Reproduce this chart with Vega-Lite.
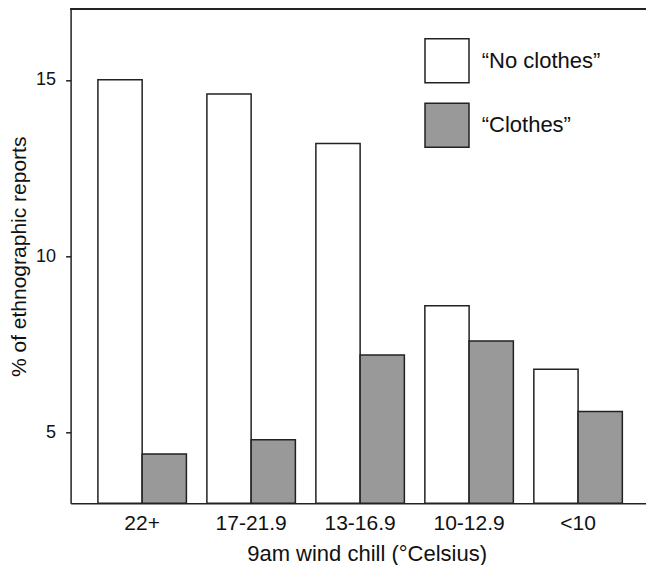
{
  "$schema": "https://vega.github.io/schema/vega-lite/v6.json",
  "autosize": {"type": "none"},
  "padding": {"left": 70.6, "top": 9.3, "right": 0.4, "bottom": 61.7},
  "width": 575,
  "height": 494,
  "background": "white",
  "config": {
    "view": {"stroke": null},
    "font": "Liberation Sans",
    "axis": {"labelFont": "Liberation Sans", "titleFont": "Liberation Sans", "labelColor": "#111", "titleColor": "#111", "titleFontWeight": "normal", "domainColor": "#222", "domainWidth": 1.5, "tickColor": "#222", "tickWidth": 1.5, "grid": false},
    "legend": {"labelFont": "Liberation Sans"}
  },
  "data": {
    "values": [
      {"chill": "22+", "series": "“No clothes”", "pct": 15.0},
      {"chill": "22+", "series": "“Clothes”", "pct": 4.4},
      {"chill": "17-21.9", "series": "“No clothes”", "pct": 14.6},
      {"chill": "17-21.9", "series": "“Clothes”", "pct": 4.8},
      {"chill": "13-16.9", "series": "“No clothes”", "pct": 13.2},
      {"chill": "13-16.9", "series": "“Clothes”", "pct": 7.2},
      {"chill": "10-12.9", "series": "“No clothes”", "pct": 8.6},
      {"chill": "10-12.9", "series": "“Clothes”", "pct": 7.6},
      {"chill": "<10", "series": "“No clothes”", "pct": 6.8},
      {"chill": "<10", "series": "“Clothes”", "pct": 5.6}
    ]
  },
  "layer": [
    {
      "mark": {"type": "bar", "stroke": "#222", "strokeWidth": 1.5},
      "encoding": {
        "x": {
          "field": "chill", "type": "nominal", "sort": ["22+", "17-21.9", "13-16.9", "10-12.9", "<10"],
          "scale": {"paddingInner": 0.188, "paddingOuter": 0.232, "align": 0.54},
          "axis": {"labelAngle": 0, "ticks": false, "tickSize": 0, "labelFontSize": 21, "labelBaseline": "alphabetic", "labelPadding": 25.7, "title": "9am wind chill (°Celsius)", "titleFontSize": 22, "titleBaseline": "alphabetic", "titleX": 296, "titleY": 56.7, "titleAlign": "center"}
        },
        "xOffset": {"field": "series", "type": "nominal", "sort": ["“No clothes”", "“Clothes”"], "scale": {"paddingInner": 0, "paddingOuter": 0}},
        "y": {
          "field": "pct", "type": "quantitative",
          "scale": {"domain": [3, 17], "zero": false, "nice": false},
          "axis": {"values": [5, 10, 15], "tickSize": 5, "labelFontSize": 18, "labelPadding": 10, "title": "% of ethnographic reports", "titleFontSize": 21, "titleBaseline": "alphabetic", "titleX": -45.6}
        },
        "y2": {"datum": 3},
        "fill": {
          "field": "series", "type": "nominal",
          "scale": {"domain": ["“No clothes”", "“Clothes”"], "range": ["#ffffff", "#999999"]},
          "legend": {"orient": "none", "legendX": 353.4, "legendY": 28.4, "title": null, "symbolType": "square", "symbolSize": 1936, "symbolStrokeColor": "#222", "symbolStrokeWidth": 1.5, "labelFontSize": 22, "labelColor": "#111", "labelOffset": 11.7, "rowPadding": 14.6, "padding": 0}
        }
      }
    },
    {
      "mark": {"type": "rule", "color": "#222", "strokeWidth": 1.5},
      "encoding": {"y": {"datum": 17}}
    }
  ]
}
